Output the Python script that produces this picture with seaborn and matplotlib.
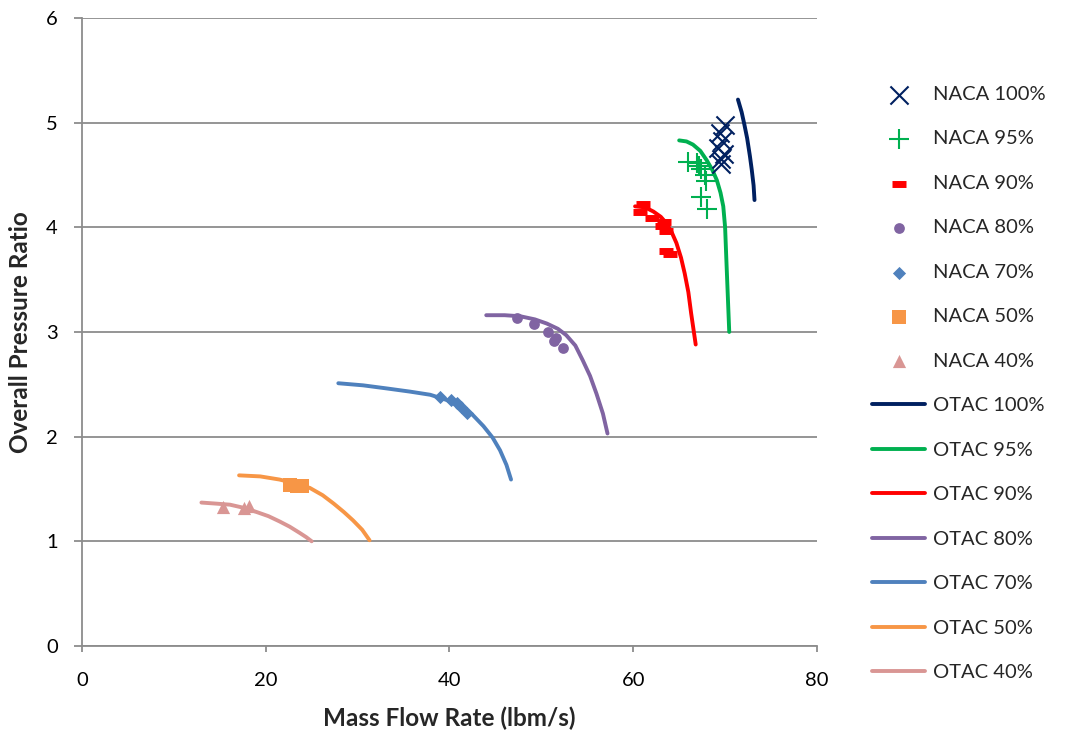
import matplotlib
matplotlib.use("Agg")
import matplotlib.pyplot as plt
import seaborn as sns
import pandas as pd

sns.set_theme(style="white")
plt.rcParams['font.family'] = ['Lato', 'DejaVu Sans']

# ---- NACA test data (markers) ----
naca100_x = [70.0, 69.4, 69.7, 69.2, 69.9, 69.5, 69.6]
naca100_y = [4.98, 4.90, 4.82, 4.76, 4.70, 4.65, 4.60]
naca95_x = [66.0, 66.9, 67.2, 67.4, 67.8, 67.9, 67.4, 68.0]
naca95_y = [4.62, 4.61, 4.59, 4.56, 4.50, 4.44, 4.29, 4.17]
naca90_x = [61.1, 60.7, 62.0, 63.4, 63.1, 63.6, 63.6, 64.0]
naca90_y = [4.22, 4.15, 4.09, 4.05, 4.01, 3.96, 3.77, 3.74]
naca80_x = [47.4, 49.2, 50.7, 51.6, 51.4, 52.4]
naca80_y = [3.13, 3.08, 3.00, 2.94, 2.91, 2.85]
naca70_x = [39.0, 40.2, 40.8, 41.3, 41.9]
naca70_y = [2.38, 2.35, 2.32, 2.28, 2.23]
naca50_x = [22.6, 23.4, 23.9]
naca50_y = [1.54, 1.53, 1.53]
naca40_x = [15.4, 17.6, 18.2]
naca40_y = [1.33, 1.32, 1.34]

# ---- OTAC model curves (lines) ----
otac100_x = [71.4, 71.8, 72.1, 72.4, 72.7, 72.9, 73.1, 73.2]
otac100_y = [5.22, 5.10, 4.98, 4.85, 4.68, 4.55, 4.40, 4.26]
otac95_x = [65.0, 65.8, 66.5, 67.3, 68.0, 68.6, 69.1, 69.5, 69.8, 70.0, 70.15, 70.3, 70.45]
otac95_y = [4.83, 4.82, 4.79, 4.73, 4.64, 4.55, 4.45, 4.33, 4.20, 4.00, 3.66, 3.33, 3.00]
otac90_x = [60.2, 61.3, 62.2, 63.0, 63.6, 64.2, 64.7, 65.2, 65.6, 66.0, 66.3, 66.6, 66.8]
otac90_y = [4.20, 4.19, 4.15, 4.10, 4.04, 3.95, 3.85, 3.71, 3.56, 3.38, 3.18, 3.00, 2.88]
otac80_x = [44.0, 46.0, 47.7, 49.3, 50.6, 51.8, 52.7, 53.7, 54.5, 55.3, 56.0, 56.7, 57.2]
otac80_y = [3.16, 3.16, 3.15, 3.12, 3.08, 3.03, 2.97, 2.87, 2.73, 2.58, 2.41, 2.22, 2.03]
otac70_x = [27.9, 30.6, 33.2, 35.7, 37.9, 39.7, 41.1, 42.5, 43.7, 44.7, 45.5, 46.2, 46.7]
otac70_y = [2.51, 2.49, 2.46, 2.43, 2.40, 2.35, 2.29, 2.21, 2.10, 1.99, 1.87, 1.73, 1.59]
otac50_x = [17.1, 19.4, 21.5, 23.3, 24.8, 26.2, 27.4, 28.5, 29.5, 30.5, 31.3]
otac50_y = [1.63, 1.62, 1.59, 1.55, 1.51, 1.44, 1.36, 1.28, 1.20, 1.11, 1.01]
otac40_x = [13.0, 14.6, 16.1, 17.6, 19.0, 20.3, 21.5, 22.6, 23.7, 24.4, 25.0]
otac40_y = [1.37, 1.36, 1.35, 1.32, 1.28, 1.24, 1.19, 1.14, 1.08, 1.04, 1.00]

naca_labels = ["NACA 100%", "NACA 95%", "NACA 90%", "NACA 80%", "NACA 70%", "NACA 50%", "NACA 40%"]
otac_labels = ["OTAC 100%", "OTAC 95%", "OTAC 90%", "OTAC 80%", "OTAC 70%", "OTAC 50%", "OTAC 40%"]
colors = ["#002060", "#00B050", "#FF0000", "#8064A2", "#4F81BD", "#F79646", "#D99694"]

naca_series = [(naca100_x, naca100_y), (naca95_x, naca95_y), (naca90_x, naca90_y),
               (naca80_x, naca80_y), (naca70_x, naca70_y), (naca50_x, naca50_y),
               (naca40_x, naca40_y)]
otac_series = [(otac100_x, otac100_y), (otac95_x, otac95_y), (otac90_x, otac90_y),
               (otac80_x, otac80_y), (otac70_x, otac70_y), (otac50_x, otac50_y),
               (otac40_x, otac40_y)]

marker_specs = [
    dict(marker="x", s=170, linewidths=1.5),
    dict(marker="+", s=200, linewidths=1.5),
    dict(marker="_", s=100, linewidths=5),
    dict(marker="o", s=60, linewidths=0),
    dict(marker="D", s=45, linewidths=0),
    dict(marker="s", s=90, linewidths=0),
    dict(marker="^", s=90, linewidths=0),
]

fig = plt.figure(figsize=(10.73, 7.38), dpi=100)
ax = fig.add_axes([0.0764, 0.1247, 0.685, 0.851])

for (xs, ys), lab, c, spec in zip(naca_series, naca_labels, colors, marker_specs):
    df = pd.DataFrame({"x": xs, "y": ys})
    sns.scatterplot(data=df, x="x", y="y", ax=ax, color=c, label=lab, zorder=3, **spec)

for (xs, ys), lab, c in zip(otac_series, otac_labels, colors):
    df = pd.DataFrame({"x": xs, "y": ys})
    sns.lineplot(data=df, x="x", y="y", ax=ax, color=c, label=lab, sort=False,
                 linewidth=2.8, solid_capstyle="round", zorder=2)

ax.set_xlim(0, 80)
ax.set_ylim(0, 6)
ax.set_xticks([0, 20, 40, 60, 80])
ax.set_yticks([0, 1, 2, 3, 4, 5, 6])
ax.yaxis.grid(True, color="#8C8C8C", linewidth=1.3)
ax.xaxis.grid(False)
for s in ["top", "right"]:
    ax.spines[s].set_visible(False)
for s in ["left", "bottom"]:
    ax.spines[s].set_color("#8C8C8C")
    ax.spines[s].set_linewidth(1.3)
ax.tick_params(axis="both", labelsize=14.5, colors="#8C8C8C", labelcolor="black",
               direction="out", width=1.3)
ax.tick_params(axis="y", length=5.5, pad=12, left=True)
ax.tick_params(axis="x", length=4.5, pad=14, bottom=True)
ax.set_xlabel("Mass Flow Rate (lbm/s)", fontsize=17.5, fontweight="bold", labelpad=13)
ax.set_ylabel("Overall Pressure Ratio", fontsize=17.5, fontweight="bold", labelpad=10)

handles, labels = ax.get_legend_handles_labels()
leg = ax.legend(handles, labels, loc="upper left", bbox_to_anchor=(1.075, 0.892),
                frameon=False, fontsize=14.5, labelspacing=1.36, handlelength=2.65,
                handletextpad=0.35, borderaxespad=0, borderpad=0)

fig.savefig("out.png", dpi=100)
